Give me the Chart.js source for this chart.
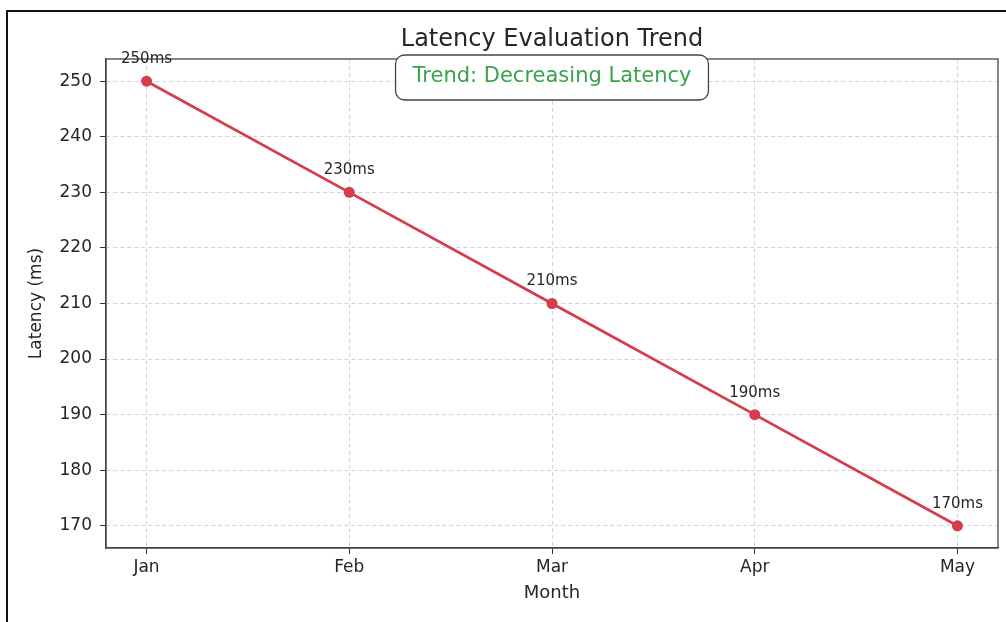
<!DOCTYPE html>
<html>
<head>
<meta charset="utf-8">
<script src="https://cdn.jsdelivr.net/npm/chart.js@4/dist/chart.umd.min.js"></script>
<style>
  html, body { margin: 0; padding: 0; background: #fff; }
  #wrap { width: 1006px; height: 622px; position: relative; }
</style>
</head>
<body>
<div id="wrap"><canvas id="chart-1"></canvas></div>
<script>
const months = ["Jan", "Feb", "Mar", "Apr", "May"];
const latency = [250, 230, 210, 190, 170];
const yTicks = [170, 180, 190, 200, 210, 220, 230, 240, 250];
const chartTitle = "Latency Evaluation Trend";
const noteText = "Trend: Decreasing Latency";

const FONT = "'DejaVu Sans', 'Open Sans', sans-serif";
const TEXT = "#262626";
const RED = "#d63c4b";

// frame, plot box, title, note box and point labels
const extras = {
  id: "extras",
  afterDraw(chart) {
    const ctx = chart.ctx;
    const a = chart.chartArea;
    ctx.save();
    // plot box (top + right edges)
    ctx.strokeStyle = "#444";
    ctx.lineWidth = 1.3;
    ctx.strokeRect(a.left, a.top, a.right - a.left, a.bottom - a.top);
    // outer frame
    ctx.strokeStyle = "#111";
    ctx.lineWidth = 2;
    ctx.strokeRect(7, 11, 1010, 630);
    // title
    ctx.fillStyle = TEXT;
    ctx.font = "24px " + FONT;
    ctx.textAlign = "center";
    ctx.textBaseline = "middle";
    const cx = (a.left + a.right) / 2;
    ctx.fillText(chartTitle, cx, 40);
    // note box
    ctx.font = "21px " + FONT;
    const w = ctx.measureText(noteText).width + 34;
    ctx.beginPath();
    ctx.roundRect(cx - w / 2, 55, w, 45, 9);
    ctx.fillStyle = "#fff";
    ctx.fill();
    ctx.strokeStyle = "#444";
    ctx.lineWidth = 1.3;
    ctx.stroke();
    ctx.fillStyle = "#3aa24f";
    ctx.fillText(noteText, cx, 77);
    // point labels
    ctx.fillStyle = TEXT;
    ctx.font = "15px " + FONT;
    const meta = chart.getDatasetMeta(0);
    meta.data.forEach(function (pt, i) {
      ctx.fillText(latency[i] + "ms", pt.x, pt.y - 22);
    });
    ctx.restore();
  },
};

new Chart(document.getElementById("chart-1"), {
  type: "line",
  data: {
    datasets: [
      {
        label: "Latency",
        data: latency.map((v, i) => ({ x: i, y: v })),
        borderColor: RED,
        backgroundColor: RED,
        borderWidth: 2.8,
        pointRadius: 5.5,
        pointHoverRadius: 5.5,
        pointBackgroundColor: RED,
        pointBorderWidth: 0,
        tension: 0,
      },
    ],
  },
  options: {
    responsive: true,
    maintainAspectRatio: false,
    animation: { duration: 0 },
    layout: { padding: { top: 59, right: 8, left: 0, bottom: 0 } },
    plugins: {
      legend: { display: false },
      tooltip: { enabled: false },
      title: { display: false },
    },
    scales: {
      x: {
        type: "linear",
        min: -0.2,
        max: 4.2,
        afterBuildTicks: (s) => {
          s.ticks = months.map((m, i) => ({ value: i }));
        },
        afterFit: (s) => {
          s.height = 74;
        },
        ticks: {
          color: TEXT,
          font: { family: FONT, size: 17 },
          padding: 3,
          maxRotation: 0,
          callback: (v) => months[v],
        },
        grid: {
          color: "#d4d4d4",
          lineWidth: 1,
          tickLength: 6,
          tickColor: "#333",
          tickBorderDash: [],
        },
        border: { color: "#444", width: 1.3, dash: [4, 3] },
        title: {
          display: true,
          text: "Month",
          color: TEXT,
          font: { family: FONT, size: 18 },
          padding: { top: 0, bottom: 18 },
        },
      },
      y: {
        min: 166,
        max: 254,
        afterBuildTicks: (s) => {
          s.ticks = yTicks.map((v) => ({ value: v }));
        },
        afterFit: (s) => {
          s.width = 106;
        },
        ticks: {
          color: TEXT,
          font: { family: FONT, size: 17 },
          padding: 8,
        },
        grid: {
          color: "#d4d4d4",
          lineWidth: 1,
          tickLength: 6,
          tickColor: "#333",
          tickBorderDash: [],
        },
        border: { color: "#444", width: 1.3, dash: [4, 3] },
        title: {
          display: true,
          text: "Latency (ms)",
          color: TEXT,
          font: { family: FONT, size: 17 },
          padding: { top: 26, bottom: 0 },
        },
      },
    },
  },
  plugins: [extras],
});
</script>
</body>
</html>
